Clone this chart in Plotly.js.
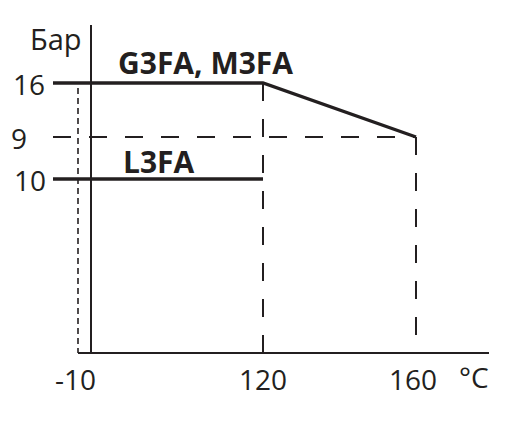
<!DOCTYPE html>
<html>
<head>
<meta charset="utf-8">
<script src="https://cdn.plot.ly/plotly-3.0.1.min.js"></script>
<style>html,body{margin:0;padding:0;background:#fff;}#chart{width:510px;height:442px;}</style>
</head>
<body>
<div id="chart"></div>
<script>
// ---- data ----
const tempTicks = [-10, 120, 160];
const tempLabels = ['-10', '120', '160'];
const pressureTicks = [16, 9, 10];
const pressureLabels = ['16', '9', '10'];
const seriesNames = ['G3FA, M3FA', 'L3FA'];
const g3faTemps = [-10, 120, 160];
const g3faBar = [16, 16, 9];
const l3faTemps = [-10, 120];
const l3faBar = [10, 10];
const yUnit = 'Бар';
const xUnit = '°C';

// ---- schematic layout (diagram is not to scale) ----
const X_AT = {'-10': 78, '120': 263, '160': 416};
const Y_AT = {'16': 83, '9': 137, '10': 179};
const X_START = 53;     // lines begin next to the pressure labels
const AXIS_X = 91, AXIS_TOP = 25, AXIS_Y = 353, AXIS_RIGHT = 489;
const INK = '#231f20';

const px = (t, i) => (i === 0 ? X_START : X_AT[String(t)]);
const py = b => Y_AT[String(b)];

const traces = [];
// reference dashed lines
traces.push({x: [X_AT['-10'], X_AT['-10']], y: [88, AXIS_Y], mode: 'lines',
  line: {color: INK, width: 1.6, dash: '6px,4px'}, hoverinfo: 'skip', showlegend: false});
traces.push({x: [X_AT['120'], X_AT['120']], y: [py(16), AXIS_Y], mode: 'lines',
  line: {color: INK, width: 2, dash: '18px,18px'}, hoverinfo: 'skip', showlegend: false});
traces.push({x: [X_AT['160'], X_AT['160']], y: [py(9), AXIS_Y], mode: 'lines',
  line: {color: INK, width: 2, dash: '18px,18px'}, hoverinfo: 'skip', showlegend: false});
traces.push({x: [X_START, X_AT['160']], y: [py(9), py(9)], mode: 'lines',
  line: {color: INK, width: 2, dash: '18px,18px'}, hoverinfo: 'skip', showlegend: false});
// axes
traces.push({x: [AXIS_X, AXIS_X], y: [AXIS_TOP, AXIS_Y], mode: 'lines',
  line: {color: INK, width: 2}, hoverinfo: 'skip', showlegend: false});
traces.push({x: [X_AT['-10'], AXIS_RIGHT], y: [AXIS_Y, AXIS_Y], mode: 'lines',
  line: {color: INK, width: 2}, hoverinfo: 'skip', showlegend: false});
// series
traces.push({name: seriesNames[0], x: g3faTemps.map(px), y: g3faBar.map(py), mode: 'lines',
  line: {color: INK, width: 3.3}, showlegend: false});
traces.push({name: seriesNames[1], x: l3faTemps.map(px), y: l3faBar.map(py), mode: 'lines',
  line: {color: INK, width: 3.3}, showlegend: false});

const FONT = 'Open Sans, sans-serif';
const ann = [];
ann.push({x: 56, y: 38, text: yUnit, font: {family: FONT, size: 29, color: INK}});
const yLabelX = {'16': 28.5, '9': 18.5, '10': 30};
pressureLabels.forEach((l, i) => ann.push({x: yLabelX[l], y: py(pressureTicks[i]) + 1,
  text: l, font: {family: FONT, size: 28, color: INK}}));
tempLabels.forEach((l, i) => ann.push({x: X_AT[String(tempTicks[i])] - (i === 0 ? 3 : 0) - (i === 2 ? 3 : 0), y: 379,
  text: l, font: {family: FONT, size: 28, color: INK}}));
ann.push({x: 474, y: 377, text: xUnit, font: {family: FONT, size: 28, color: INK}});
ann.push({x: 205, y: 62, text: '<b>' + seriesNames[0] + '</b>', font: {family: FONT, size: 30, color: INK}});
ann.push({x: 159, y: 161, text: '<b>' + seriesNames[1] + '</b>', font: {family: FONT, size: 30, color: INK}});
ann.forEach(a => Object.assign(a, {xref: 'x', yref: 'y', showarrow: false, xanchor: 'center', yanchor: 'middle'}));

const layout = {
  width: 510, height: 442,
  margin: {l: 0, r: 0, t: 0, b: 0},
  paper_bgcolor: '#fff', plot_bgcolor: '#fff',
  xaxis: {range: [0, 510], visible: false, fixedrange: true},
  yaxis: {range: [442, 0], visible: false, fixedrange: true},
  annotations: ann,
  showlegend: false
};
Plotly.newPlot('chart', traces, layout, {staticPlot: true, displayModeBar: false});
</script>
</body>
</html>
